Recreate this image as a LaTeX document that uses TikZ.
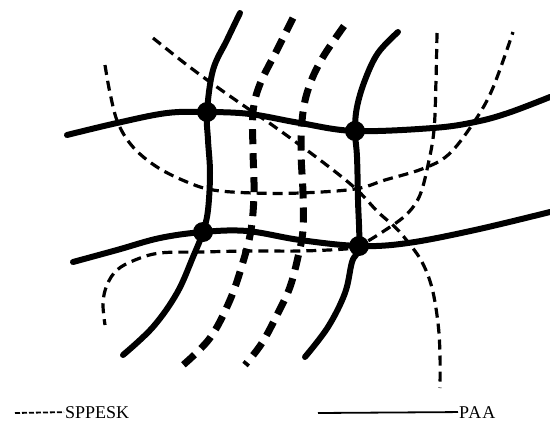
\documentclass[tikz,border=0pt]{standalone}
\usepackage{fontspec}
\setmainfont{Liberation Serif}
\usepackage{tikz}
\usetikzlibrary{calc}
\tikzset{
  paa/.style={line width=6pt,line cap=round,line join=round},
  sppesk/.style={line width=3.2pt,dash pattern=on 10pt off 6pt},
  sppeskbold/.style={line width=7pt,dash pattern=on 15pt off 9pt},
  joint/.style={circle,fill=black,inner sep=0pt,minimum size=20pt},
  legtext/.style={anchor=base west,inner sep=1pt,font=\fontsize{18}{21}\selectfont},
  legdash/.style={line width=1.8pt,dash pattern=on 5pt off 2pt},
  legline/.style={line width=1.8pt},
}

\begin{document}
\begin{tikzpicture}[x=1pt,y=-1pt]
  \useasboundingbox[fill=white] (0,0) rectangle (550,421);
  % the four joints of the PAA grid
  \node[joint] (jA) at (207,112){};
  \node[joint] (jB) at (355,131){};
  \node[joint] (jC) at (203,232){};
  \node[joint] (jD) at (359,246){};
  % SPPESK, thin dashed
  \draw[sppesk] plot[smooth,tension=0.6] coordinates {(105,65) (110,93) (118,123)
    (133,147) (157,167) (187,182) (213,190) (253,193) (300,193) (355,189) (385,180)
    (422,169) (448,155) (472,125) (492,90) (513,32)};
  \draw[sppesk] plot[smooth,tension=0.6] coordinates {(153,38) (187,65) (217,87)
    (250,110) (275,127) (320,160) (355,188) (378,212) (395,227) (408,242) (422,262)
    (432,288) (438,323) (440,355) (440,388)};
  \draw[sppesk] plot[smooth,tension=0.6] coordinates {(437,33) (436,80) (434,130)
    (428,165) (420,195) (408,213) (390,227) (jD.center) (345,249) (300,251)
    (250,251) (200,252) (160,253) (135,260) (117,270) (107,285) (103,303) (105,325)};
  % SPPESK, bold dashed
  \draw[sppeskbold] plot[smooth,tension=0.6] coordinates {(293,18) (277,50) (260,84)
    (253,112) (253,150) (254,193) (251,230) (243,262) (230,300) (210,338) (182,366)};
  \draw[sppeskbold] plot[smooth,tension=0.6] coordinates {(344,26) (323,57) (310,84)
    (303,112) (301,150) (303,193) (303,230) (298,257) (290,287) (278,313) (262,343)
    (245,365)};
  % PAA, solid
  \draw[paa] plot[smooth,tension=0.6] coordinates {(67,135) (117,123) (167,113)
    (jA.center) (250,114) (300,123) (jB.center) (433,128) (475,122) (508,113) (550,97)};
  \draw[paa] plot[smooth,tension=0.6] coordinates {(73,262) (117,250) (160,238)
    (jC.center) (247,231) (300,240) (jD.center) (408,243) (475,230) (550,212)};
  \draw[paa] plot[smooth,tension=0.6] coordinates {(240,13) (227,40) (213,70)
    (jA.center) (208,140) (210,173) (208,210) (jC.center) (193,257) (177,293)
    (153,327) (123,355)};
  \draw[paa] plot[smooth,tension=0.6] coordinates {(398,32) (378,53) (365,80)
    (357,107) (jB.center) (357,157) (358,200) (jD.center) (352,262) (345,293)
    (328,327) (305,357)};
  % legend
  \coordinate (lgDashL) at (15,413);
  \node[legtext] (lgDash) at (64,418) {SPPESK};
  \draw[legdash] (lgDashL) -- (lgDash.west);
  \coordinate (lgLineL) at (318,413);
  \node[legtext] (lgLine) at (458,418) {\addfontfeature{LetterSpace=5}PAA};
  \draw[legline] (lgLineL) -- (lgLine.west);
\end{tikzpicture}
\end{document}
